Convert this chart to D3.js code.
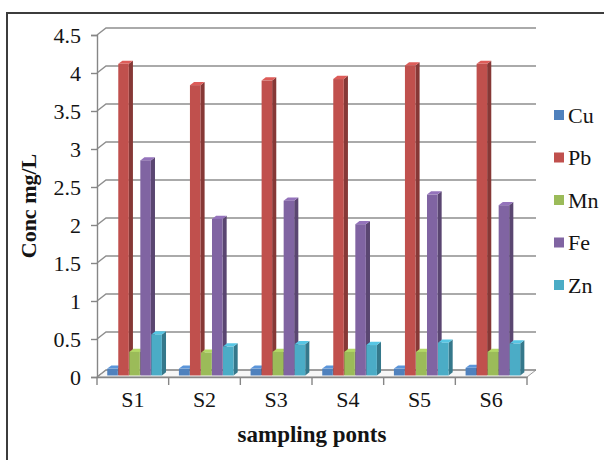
<!DOCTYPE html>
<html>
<head>
<meta charset="utf-8">
<script src="https://cdn.jsdelivr.net/npm/d3@7/dist/d3.min.js"></script>
<style>
  html, body { margin: 0; padding: 0; background: #fff; }
  svg { display: block; }
  text { font-family: "Liberation Serif", "Times New Roman", serif; fill: #141414; }
</style>
</head>
<body>
<svg id="chart" width="604" height="460"></svg>
<script>
// ---- data ----
const categories = ["S1", "S2", "S3", "S4", "S5", "S6"];
const seriesNames = ["Cu", "Pb", "Mn", "Fe", "Zn"];
const Cu = [0.09, 0.09, 0.09, 0.09, 0.09, 0.10];
const Pb = [4.10, 3.82, 3.88, 3.90, 4.08, 4.10];
const Mn = [0.31, 0.30, 0.31, 0.31, 0.31, 0.31];
const Fe = [2.83, 2.06, 2.30, 1.99, 2.38, 2.24];
const Zn = [0.54, 0.38, 0.41, 0.40, 0.43, 0.42];
const yTicks = [0, 0.5, 1, 1.5, 2, 2.5, 3, 3.5, 4, 4.5];
const colors = ["#4F81BD", "#C0504D", "#9BBB59", "#8064A2", "#4BACC6"];
const seriesValues = [Cu, Pb, Mn, Fe, Zn];

(function () {
// ---- layout ----
const svg = d3.select("#chart");
const pL = 97, pR = 527, pT = 35, pB = 377;
const depthX = 9, depthY = -7;          // oblique offset of back wall
const barFront = 0.22, barBack = 0.68;  // depth fraction for bar faces

const x = d3.scaleBand().domain(categories).range([pL, pR]).padding(0);
const xs = d3.scaleBand().domain(seriesNames).range([0, x.bandwidth()])
  .paddingInner(0).paddingOuter(0.75);
const y = d3.scaleLinear().domain([0, 4.5]).range([pB, pT]);

// outer border
svg.append("rect").attr("x", 7).attr("y", 13).attr("width", 620).attr("height", 470)
  .attr("fill", "none").attr("stroke", "#3c3c3c").attr("stroke-width", 2);

// floor
svg.append("path")
  .attr("d", `M${pL},${pB} L${pR},${pB} L${pR + depthX},${pB + depthY} L${pL + depthX},${pB + depthY} Z`)
  .attr("fill", "#f6f6f6").attr("stroke", "#9a9a9a").attr("stroke-width", 1);

// gridlines (side wall diagonal + back wall horizontal)
svg.append("g").selectAll("path").data(yTicks).join("path")
  .attr("d", d => `M${pL},${y(d)} L${pL + depthX},${y(d) + depthY} L${pR + depthX},${y(d) + depthY}`)
  .attr("fill", "none").attr("stroke", "#8e8e8e").attr("stroke-width", 1.4);

// bars
const colorDarker = c => d3.color(c).darker(1.0).formatHex();
const colorLighter = c => d3.color(c).brighter(0.4).formatHex();
const barsG = svg.append("g");
categories.forEach((cat, ci) => {
  seriesNames.forEach((s, si) => {
    const v = seriesValues[si][ci];
    const fx = x(cat) + xs(s) + depthX * barFront;
    const fy0 = y(0) + depthY * barFront;
    const fy1 = y(v) + depthY * barFront;
    const w = xs.bandwidth() - 0.5;
    const ddx = depthX * (barBack - barFront);
    const ddy = depthY * (barBack - barFront);
    const c = colors[si];
    barsG.append("path")
      .attr("d", `M${fx + w},${fy0} L${fx + w + ddx},${fy0 + ddy} L${fx + w + ddx},${fy1 + ddy} L${fx + w},${fy1} Z`)
      .attr("fill", colorDarker(c));
    barsG.append("path")
      .attr("d", `M${fx},${fy1} L${fx + ddx},${fy1 + ddy} L${fx + w + ddx},${fy1 + ddy} L${fx + w},${fy1} Z`)
      .attr("fill", colorLighter(c));
    barsG.append("rect")
      .attr("x", fx).attr("y", fy1).attr("width", w).attr("height", fy0 - fy1)
      .attr("fill", c);
  });
});

// y axis
const yAxis = svg.append("g").attr("transform", `translate(${pL},0)`)
  .call(d3.axisLeft(y).tickValues(yTicks).tickFormat(d3.format("~g")).tickSize(6).tickPadding(10));
yAxis.select(".domain").attr("stroke", "#868686").attr("stroke-width", 1.4);
yAxis.selectAll(".tick line").attr("stroke", "#868686").attr("stroke-width", 1.4);
yAxis.selectAll(".tick text").attr("font-size", 22).attr("font-family", "Liberation Serif").attr("fill", "#141414");

// x axis
const xAxis = svg.append("g").attr("transform", `translate(0,${pB})`)
  .call(d3.axisBottom(x).tickSize(0).tickPadding(14));
xAxis.select(".domain").attr("stroke", "#868686").attr("stroke-width", 1.6);
xAxis.selectAll(".tick text").attr("font-size", 22).attr("font-family", "Liberation Serif").attr("fill", "#141414");
const bounds = categories.map(c => x(c)).concat([pR]);
svg.append("g").selectAll("line").data(bounds).join("line")
  .attr("x1", d => d).attr("x2", d => d).attr("y1", pB).attr("y2", pB + 8)
  .attr("stroke", "#868686").attr("stroke-width", 1.4);

// axis titles
svg.append("text").attr("x", (pL + pR) / 2).attr("y", 442)
  .attr("text-anchor", "middle").attr("font-weight", "bold").attr("font-size", 23)
  .text("sampling ponts");
svg.append("text").attr("transform", `translate(28,${(pT + pB) / 2}) rotate(-90)`)
  .attr("text-anchor", "middle").attr("dominant-baseline", "central")
  .attr("font-weight", "bold").attr("font-size", 22)
  .text("Conc mg/L");

// legend
const legendY = d3.scalePoint().domain(seriesNames).range([115, 285]);
const lg = svg.append("g");
seriesNames.forEach((s, i) => {
  lg.append("rect").attr("x", 554).attr("y", legendY(s) - 5).attr("width", 10).attr("height", 10)
    .attr("fill", colors[i]);
  lg.append("text").attr("x", 568).attr("y", legendY(s)).attr("dominant-baseline", "central")
    .attr("font-size", 22).text(s);
});
})();
</script>
</body>
</html>
